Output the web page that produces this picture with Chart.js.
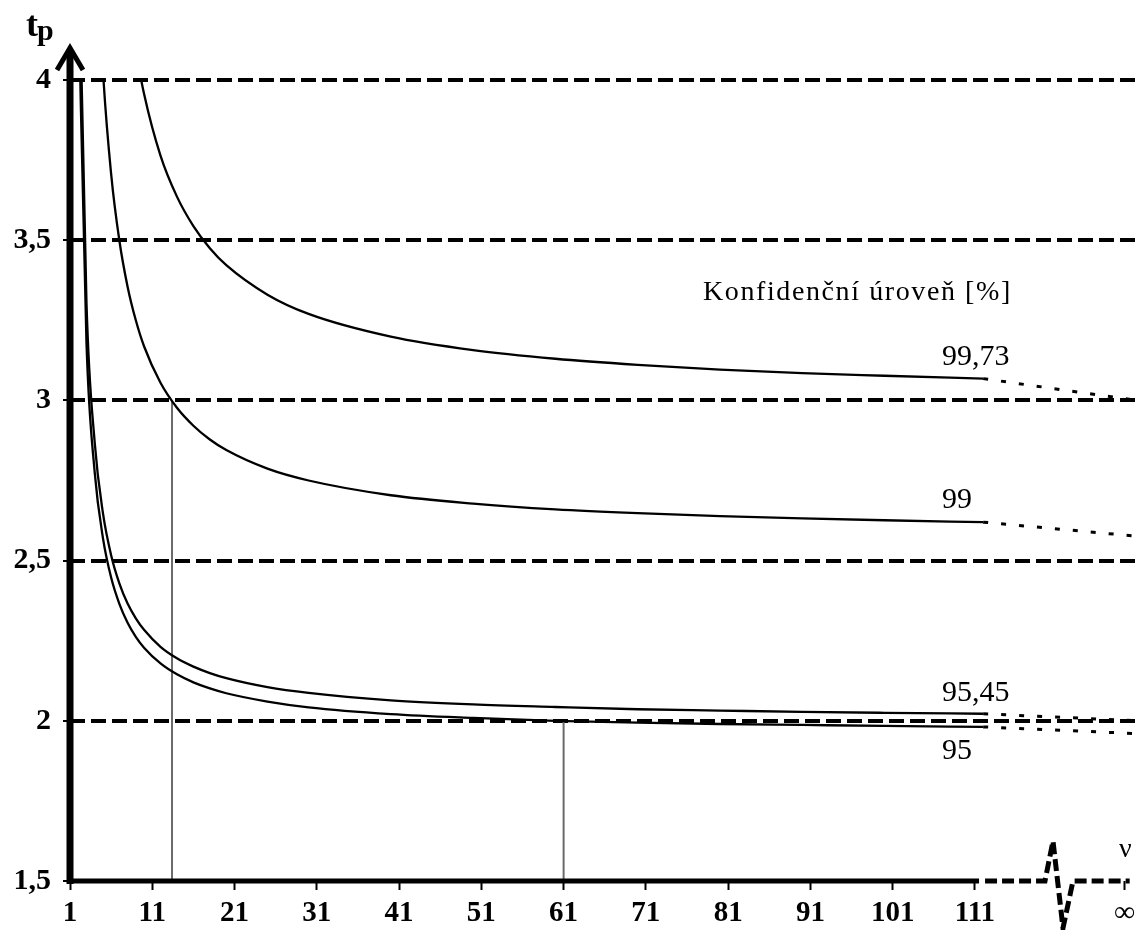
<!DOCTYPE html>
<html>
<head>
<meta charset="utf-8">
<script src="https://cdn.jsdelivr.net/npm/chart.js@4"></script>
<style>
    body { margin: 0; background: #fff; }
    #wrap { width: 1141px; height: 930px; }
</style>
</head>
<body>
<div id="wrap"><canvas id="myChart"></canvas></div>
<script>
// degrees of freedom and t_p values
let nu    = [2, 3, 4, 5, 6, 7, 8, 9, 10, 12, 14, 16, 18, 20, 25, 30, 40, 50, 60, 70, 80, 90, 100, 112];
let t95   = [4.303, 3.182, 2.776, 2.571, 2.447, 2.365, 2.306, 2.262, 2.228, 2.179, 2.145, 2.120, 2.101, 2.086, 2.060, 2.042, 2.021, 2.009, 2.000, 1.994, 1.990, 1.987, 1.984, 1.981];
let t9545 = [4.527, 3.307, 2.869, 2.649, 2.517, 2.429, 2.366, 2.320, 2.284, 2.231, 2.195, 2.169, 2.149, 2.133, 2.105, 2.087, 2.064, 2.051, 2.043, 2.036, 2.032, 2.028, 2.025, 2.022];
let t99   = [null, null, 4.604, 4.032, 3.707, 3.499, 3.355, 3.250, 3.169, 3.055, 2.977, 2.921, 2.878, 2.845, 2.787, 2.750, 2.704, 2.678, 2.660, 2.648, 2.639, 2.632, 2.626, 2.620];
let t9973 = [null, null, null, null, null, null, 4.277, 4.094, 3.957, 3.764, 3.636, 3.544, 3.475, 3.422, 3.330, 3.270, 3.199, 3.157, 3.130, 3.111, 3.096, 3.085, 3.077, 3.068];

let levelNames = ['95', '95,45', '99', '99,73'];
let tInf = [1.960, 2.000, 2.576, 3.000];   // values at nu -> infinity
let nuInf = 129.2;                          // where the "∞" tick sits
let nuEdge = 130.7;                         // right edge of the plot

let xTickValues = [1, 11, 21, 31, 41, 51, 61, 71, 81, 91, 101, 111, nuInf];
let xTickLabels = ['1', '11', '21', '31', '41', '51', '61', '71', '81', '91', '101', '111', '∞'];
let yTickValues = [1.5, 2, 2.5, 3, 3.5, 4];
let yTickLabels = ['1,5', '2', '2,5', '3', '3,5', '4'];

// thin grey helper lines
let guideNu = [13.4, 61];
let guideT  = [3.0, 2.0];

let serif = '"Liberation Serif", "Times New Roman", serif';
let series = [t95, t9545, t99, t9973];

let datasets = [];
series.forEach((s, i) => {
    let pts = [];
    nu.forEach((x, j) => { if (s[j] != null) pts.push({x: x, y: s[j]}); });
    datasets.push({
        data: pts,
        borderColor: '#000',
        borderWidth: 2.3,
        pointRadius: 0,
        cubicInterpolationMode: 'monotone',
        fill: false
    });
    // dotted continuation towards infinity
    datasets.push({
        data: [{x: nu[nu.length - 1], y: s[s.length - 1]}, {x: nuEdge, y: tInf[i]}],
        borderColor: '#000',
        borderWidth: 3,
        borderDash: [5, 13],
        pointRadius: 0,
        tension: 0,
        fill: false
    });
});
guideNu.forEach((x, i) => {
    datasets.push({
        data: [{x: x, y: 1.5}, {x: x, y: guideT[i]}],
        borderColor: '#6a6a6a',
        borderWidth: 2,
        pointRadius: 0,
        tension: 0,
        fill: false
    });
});

let decorations = {
    id: 'decorations',
    afterDraw(chart) {
        let ctx = chart.ctx;
        let xs = chart.scales.x, ys = chart.scales.y;
        let x0 = xs.getPixelForValue(1);
        let yb = ys.getPixelForValue(1.5);
        ctx.save();
        ctx.strokeStyle = '#000';
        ctx.fillStyle = '#000';

        // y axis with arrow
        ctx.lineWidth = 7;
        ctx.beginPath();
        ctx.moveTo(x0, yb + 3);
        ctx.lineTo(x0, 50);
        ctx.stroke();
        ctx.lineWidth = 5;
        ctx.lineJoin = 'miter';
        ctx.beginPath();
        ctx.moveTo(x0 - 13, 70);
        ctx.lineTo(x0, 48);
        ctx.lineTo(x0 + 13, 70);
        ctx.stroke();

        // x axis, solid up to 111
        let xEnd = xs.getPixelForValue(111.5);
        ctx.lineWidth = 5;
        ctx.beginPath();
        ctx.moveTo(x0 - 3, yb);
        ctx.lineTo(xEnd, yb);
        ctx.stroke();

        // dashed part with the break
        let xInf = xs.getPixelForValue(nuInf);
        ctx.setLineDash([12, 5]);
        ctx.beginPath();
        ctx.moveTo(xEnd + 6, yb);
        ctx.lineTo(1045, yb);
        ctx.lineTo(1053, yb - 40);
        ctx.lineTo(1063, yb + 47);
        ctx.lineTo(1073, yb);
        ctx.lineTo(xInf + 5, yb);
        ctx.stroke();
        ctx.setLineDash([]);

        // axis titles
        ctx.textBaseline = 'alphabetic';
        ctx.textAlign = 'left';
        ctx.font = 'bold 36px ' + serif;
        ctx.fillText('t', 26, 36);
        ctx.font = 'bold 30px ' + serif;
        ctx.fillText('p', 37, 40);
        ctx.font = '28px ' + serif;
        ctx.fillText('ν', 1119, 857);

        // legend title and curve labels
        ctx.font = '28px ' + serif;
        ctx.letterSpacing = '1.6px';
        ctx.fillText('Konfidenční úroveň [%]', 703, 300);
        ctx.letterSpacing = '0px';
        ctx.font = '30px ' + serif;
        let lx = xs.getPixelForValue(107);
        let offs = [32, -13, -14, -14];
        series.forEach((s, i) => {
            let y = ys.getPixelForValue(s[s.length - 1]) + offs[i];
            ctx.fillText(levelNames[i], lx, y);
        });
        ctx.restore();
    }
};

new Chart('myChart', {
    type: 'line',
    data: { datasets: datasets },
    options: {
        responsive: true,
        maintainAspectRatio: false,
        animation: false,
        layout: { padding: { top: 80, right: 0, left: 0, bottom: 0 } },
        plugins: {
            legend: { display: false },
            tooltip: { enabled: false }
        },
        scales: {
            x: {
                type: 'linear',
                min: 1,
                max: nuEdge,
                afterBuildTicks: (s) => { s.ticks = xTickValues.map(v => ({value: v})); },
                afterFit: (s) => { s.height = 49; },
                ticks: {
                    autoSkip: false,
                    maxRotation: 0,
                    padding: 6,
                    color: '#000',
                    font: { family: serif, size: 29, weight: 'bold' },
                    callback: (v, i) => xTickLabels[i]
                },
                grid: { drawOnChartArea: false, drawTicks: true, tickLength: 9, tickWidth: 2, tickColor: '#000' },
                border: { display: false }
            },
            y: {
                min: 1.5,
                max: 4,
                afterBuildTicks: (s) => { s.ticks = yTickValues.map(v => ({value: v})); },
                afterFit: (s) => { s.width = 70; },
                ticks: {
                    padding: 12,
                    color: '#000',
                    font: { family: serif, size: 30, weight: 'bold' },
                    callback: (v, i) => yTickLabels[i]
                },
                grid: {
                    color: (c) => c.index === 0 ? 'rgba(0,0,0,0)' : '#000',
                    lineWidth: 4,
                    drawTicks: true,
                    tickLength: 7,
                    tickWidth: 2,
                    tickColor: '#000',
                    tickBorderDash: []
                },
                border: { display: false, dash: [15, 6] }
            }
        }
    },
    plugins: [decorations]
});
</script>
</body>
</html>
